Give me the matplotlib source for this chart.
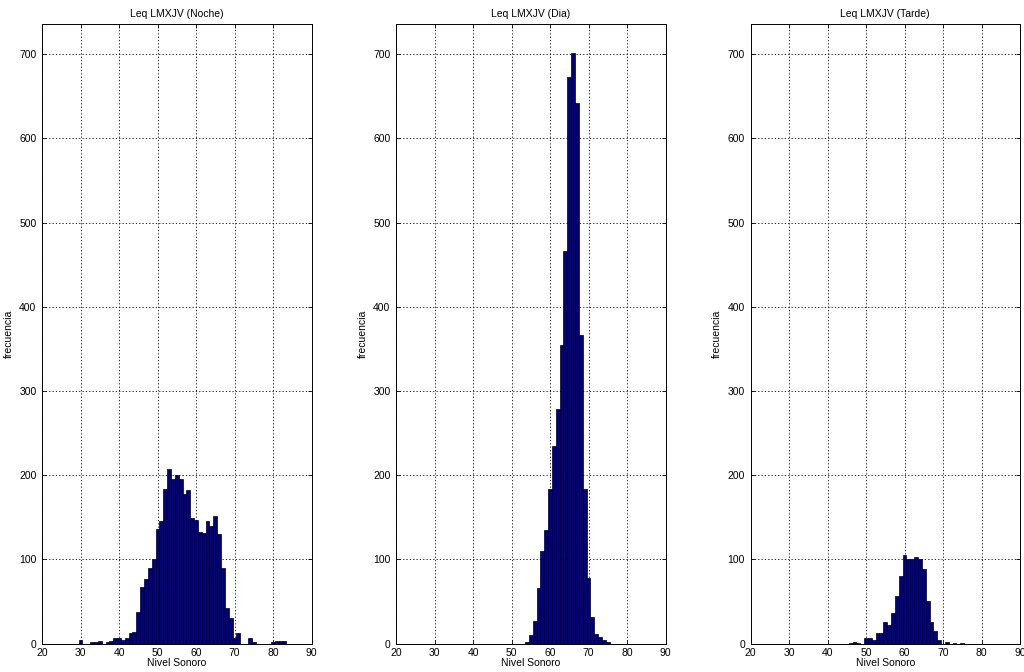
import matplotlib
matplotlib.use('Agg')
import matplotlib.pyplot as plt

plt.rcParams['font.family'] = ['Liberation Sans', 'DejaVu Sans']
plt.rcParams['font.size'] = 7.5

TITLES = ['Leq LMXJV (Noche)', 'Leq LMXJV (Dia)', 'Leq LMXJV (Tarde)']

# bin centers (dB) and counts
noche_x = list(range(30, 84))
noche_y = [4, 0, 0, 2, 2, 3, 0, 2, 3, 7, 6, 4, 6, 13, 14, 37, 67, 77, 90, 100,
           136, 146, 184, 207, 195, 200, 196, 178, 182, 149, 147, 132, 131, 145, 140, 152,
           130, 90, 42, 30, 7, 12, 0, 0, 7, 2, 0, 0, 0, 0, 2, 3, 3, 3]

dia_x = list(range(54, 76))
dia_y = [2, 10, 27, 66, 110, 135, 183, 235, 279, 355, 466, 673, 702, 642, 366, 183,
         78, 31, 11, 8, 4, 2]

tarde_x = list(range(46, 76))
tarde_y = [1, 2, 1, 0, 6, 7, 4, 12, 12, 25, 22, 36, 56, 80, 105, 100, 100, 103, 100,
           89, 51, 26, 15, 4, 0, 2, 0, 1, 0, 1]

series = [(noche_x, noche_y), (dia_x, dia_y), (tarde_x, tarde_y)]
lefts = [42, 396, 750.5]

fig = plt.figure(figsize=(10.24, 6.72), dpi=100)
for i, (xs, ys) in enumerate(series):
    ax = fig.add_axes([lefts[i] / 1024, 1 - 643.5 / 672, 269.5 / 1024, 619.5 / 672])
    ax.bar(xs, ys, width=1.0, color='#000080', edgecolor='black', linewidth=0.5, zorder=3)
    ax.set_xlim(20, 90)
    ax.set_ylim(0, 736)
    ax.set_xticks(range(20, 91, 10))
    ax.set_yticks(range(0, 701, 100))
    ax.grid(True, color='black', linestyle=(0, (1.5, 2.5)), linewidth=0.6, zorder=1)
    ax.tick_params(direction='in', length=3, width=0.6, top=True, right=True)
    ax.tick_params(axis='x', pad=3)
    ax.tick_params(axis='y', pad=4)
    for sp in ax.spines.values():
        sp.set_linewidth(0.7)
    ax.set_title(TITLES[i], fontsize=7.5, pad=5)
    ax.set_xlabel('Nivel Sonoro', labelpad=0)
    ax.set_ylabel('frecuencia', labelpad=4)

fig.savefig('out.png', dpi=100)
